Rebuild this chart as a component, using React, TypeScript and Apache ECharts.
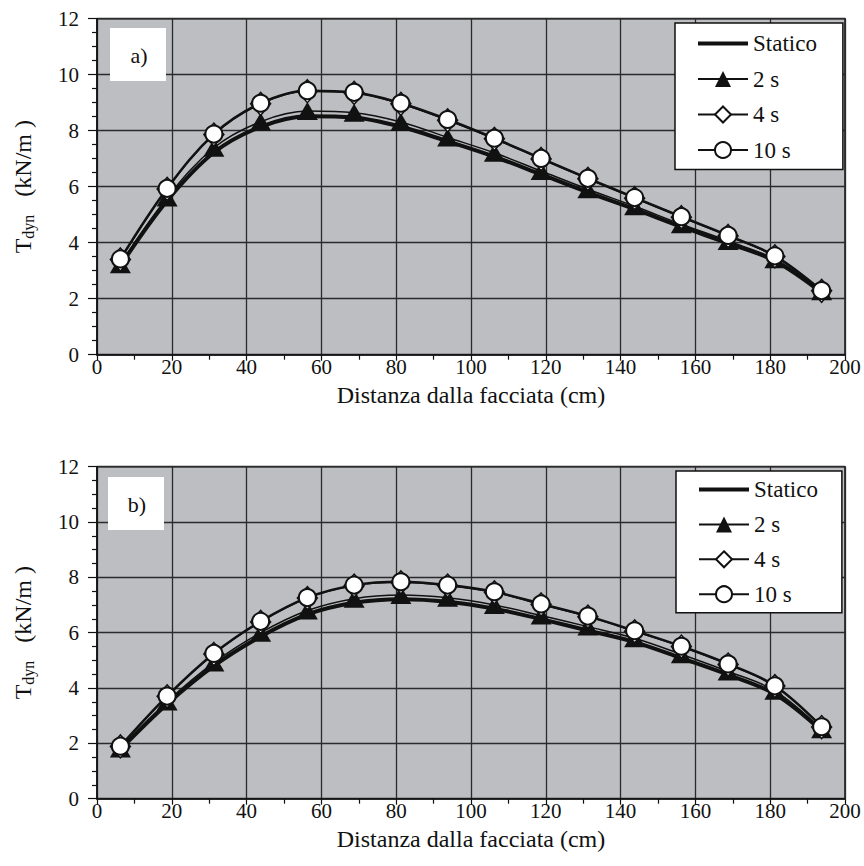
import React, { useEffect, useRef } from "react";
import * as echarts from "echarts";

// Distance of each measuring section from the facade (cm)
const distances = [6.25, 18.75, 31.25, 43.75, 56.25, 68.75, 81.25, 93.75, 106.25, 118.75, 131.25, 143.75, 156.25, 168.75, 181.25, 193.75];

// Panel a) — dynamic tension T_dyn (kN/m)
const staticoA = [3.18, 5.5, 7.22, 8.14, 8.52, 8.47, 8.14, 7.62, 7.07, 6.44, 5.8, 5.2, 4.57, 3.98, 3.35, 2.22];
const twoSecA = [3.23, 5.61, 7.39, 8.32, 8.7, 8.64, 8.31, 7.76, 7.21, 6.56, 5.91, 5.3, 4.66, 4.06, 3.41, 2.27];
const fourSecA = [3.4, 5.92, 7.86, 8.96, 9.41, 9.35, 8.96, 8.37, 7.71, 6.99, 6.28, 5.59, 4.91, 4.24, 3.51, 2.28];
const tenSecA = [3.42, 5.94, 7.88, 8.98, 9.43, 9.37, 8.98, 8.4, 7.73, 7.01, 6.3, 5.61, 4.93, 4.26, 3.53, 2.29];

// Panel b)
const staticoB = [1.78, 3.42, 4.8, 5.86, 6.66, 7.08, 7.21, 7.12, 6.87, 6.49, 6.08, 5.66, 5.08, 4.48, 3.78, 2.45];
const twoSecB = [1.81, 3.51, 4.92, 6.0, 6.8, 7.23, 7.36, 7.26, 7.0, 6.62, 6.22, 5.8, 5.22, 4.6, 3.9, 2.51];
const fourSecB = [1.89, 3.7, 5.23, 6.39, 7.25, 7.7, 7.82, 7.7, 7.46, 7.02, 6.58, 6.05, 5.5, 4.85, 4.07, 2.59];
const tenSecB = [1.9, 3.71, 5.25, 6.41, 7.27, 7.72, 7.84, 7.72, 7.48, 7.04, 6.6, 6.07, 5.51, 4.87, 4.08, 2.6];

const seriesNames = ["Statico", "2 s", "4 s", "10 s"];
const xTitle = "Distanza dalla facciata (cm)";
const panelLabels = ["a)", "b)"];

const SERIF = "Liberation Serif, Times New Roman, serif";
const INK = "#111111";
const PLOT_BG = "#bdbec2";

const pairs = (ys: number[]) => distances.map((x, i) => [x, ys[i]]);

function panelSeries(idx: number, st: number[], s2: number[], s4: number[], s10: number[]) {
  const common = { type: "line", xAxisIndex: idx, yAxisIndex: idx, smooth: 0.35 };
  return [
    { ...common, name: seriesNames[0], data: pairs(st), symbol: "none", lineStyle: { color: INK, width: 4 }, itemStyle: { color: INK } },
    {
      ...common, name: seriesNames[1], data: pairs(s2), symbol: "triangle", symbolSize: [21, 18],
      itemStyle: { color: INK }, lineStyle: { color: INK, width: 1.5 },
    },
    {
      ...common, name: seriesNames[2], data: pairs(s4), symbol: "diamond", symbolSize: [20, 23],
      itemStyle: { color: "#ffffff", borderColor: INK, borderWidth: 1.5 }, lineStyle: { color: INK, width: 1.5 },
    },
    {
      ...common, name: seriesNames[3], data: pairs(s10), symbol: "circle", symbolSize: 17,
      itemStyle: { color: "#ffffff", borderColor: INK, borderWidth: 2 }, lineStyle: { color: INK, width: 2.5 },
    },
  ];
}

function xAxisFor(idx: number) {
  return {
    gridIndex: idx, type: "value", min: 0, max: 200, interval: 20,
    name: xTitle, nameLocation: "middle", nameGap: 28, nameMoveOverlap: false,
    nameTextStyle: { fontFamily: SERIF, fontSize: 24, color: INK },
    axisLine: { lineStyle: { color: INK, width: 1.5 } },
    axisTick: { show: true, inside: false, length: 6, lineStyle: { color: INK, width: 1.2 } },
    minorTick: { show: true, splitNumber: 2, length: 5, lineStyle: { color: INK, width: 1.2 } },
    splitLine: { show: true, lineStyle: { color: "#2b2b2b", width: 1.3 } },
    axisLabel: { fontFamily: SERIF, fontSize: 21, color: INK, margin: 2 },
  };
}

function yAxisFor(idx: number) {
  return {
    gridIndex: idx, type: "value", min: 0, max: 12, interval: 2,
    name: "{t|T}{s|dyn}{t|   (kN/m )}", nameLocation: "middle", nameRotate: 90, nameGap: 61, nameMoveOverlap: false,
    nameTextStyle: {
      fontFamily: SERIF, fontSize: 24, color: INK,
      rich: {
        t: { fontFamily: SERIF, fontSize: 24, color: INK, lineHeight: 26 },
        s: { fontFamily: SERIF, fontSize: 16, color: INK, lineHeight: 16, verticalAlign: "bottom" },
      },
    },
    axisLine: { show: true, lineStyle: { color: INK, width: 1.5 } },
    axisTick: { show: true, inside: false, length: 9, lineStyle: { color: INK, width: 1.2 } },
    minorTick: { show: true, splitNumber: 4, length: 5, lineStyle: { color: INK, width: 1.2 } },
    splitLine: { show: true, lineStyle: { color: "#2b2b2b", width: 1.3 } },
    axisLabel: { fontFamily: SERIF, fontSize: 21, color: INK, margin: 18 },
  };
}

function legendFor(left: number, top: number, gap: number, padding: number[]) {
  return {
    data: [
      { name: seriesNames[0], icon: "path://M0,0H50V4H0Z", itemStyle: { color: INK } },
      seriesNames[1], seriesNames[2], seriesNames[3],
    ],
    left, top, orient: "vertical", selectedMode: false, symbolKeepAspect: true,
    backgroundColor: "#ffffff", borderColor: INK, borderWidth: 1.5, borderRadius: 0,
    padding, itemGap: gap, itemWidth: 50, itemHeight: 20,
    textStyle: { fontFamily: SERIF, fontSize: 23, color: INK },
  };
}

function labelBox(x: number, y: number, text: string) {
  return [
    { type: "rect", z: 10, shape: { x, y, width: 56, height: 53 }, style: { fill: "#ffffff" } },
    {
      type: "text", z: 11, x: x + 29, y: y + 27,
      style: { text, fontFamily: SERIF, fontSize: 22, fill: INK, align: "center", verticalAlign: "middle" },
    },
  ];
}

export default function App() {
  const ref = useRef<HTMLDivElement>(null);

  useEffect(() => {
    if (!ref.current) return;
    const chart = echarts.init(ref.current, undefined, { renderer: "svg" });
    const gridStyle = { show: true, backgroundColor: PLOT_BG, borderColor: INK, borderWidth: 1.5 };
    chart.setOption({
      animation: false,
      backgroundColor: "#ffffff",
      textStyle: { fontFamily: SERIF, color: INK },
      grid: [
        { ...gridStyle, left: 97, top: 18.7, width: 748, height: 336 },
        { ...gridStyle, left: 97, top: 466.7, width: 748, height: 332 },
      ],
      xAxis: [xAxisFor(0), xAxisFor(1)],
      yAxis: [yAxisFor(0), yAxisFor(1)],
      legend: [
        legendFor(675, 23, 12.5, [9, 26, 8, 22]),
        legendFor(676, 471, 11.9, [7, 24, 7, 22]),
      ],
      graphic: [...labelBox(110, 28, panelLabels[0]), ...labelBox(108, 477, panelLabels[1])],
      series: [
        ...panelSeries(0, staticoA, twoSecA, fourSecA, tenSecA),
        ...panelSeries(1, staticoB, twoSecB, fourSecB, tenSecB),
      ],
    });
    return () => chart.dispose();
  }, []);

  return <div ref={ref} style={{ position: "fixed", left: 0, top: 0, width: 864, height: 866 }} />;
}
